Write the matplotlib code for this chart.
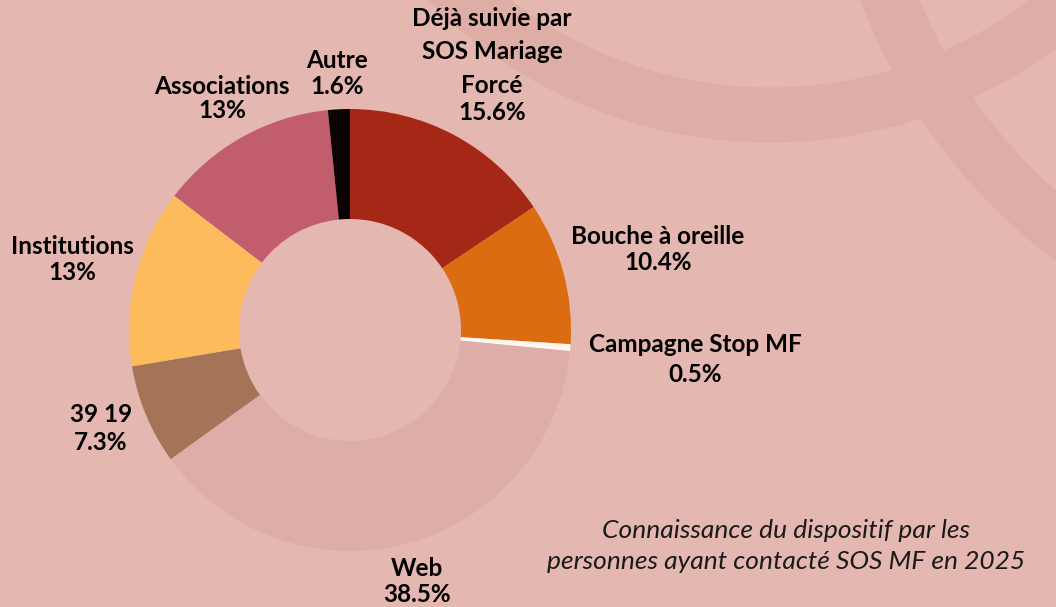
import matplotlib
matplotlib.use("Agg")
import matplotlib.pyplot as plt
from matplotlib.patches import Circle

# source share (%), clockwise from the top
labels = ["Déjà suivie par\nSOS Mariage\nForcé", "Bouche à oreille", "Campagne Stop MF",
          "Web", "39 19", "Institutions", "Associations", "Autre"]
values = [15.6, 10.4, 0.5, 38.5, 7.3, 13, 13, 1.6]
pct_text = ["15.6%", "10.4%", "0.5%", "38.5%", "7.3%", "13%", "13%", "1.6%"]
colors = ["#A52816", "#DB6C12", "#FFF6F0", "#DDAEA7", "#A57357", "#FEBB5C", "#C25D6E", "#0A0302"]

subtitle = "Connaissance du dispositif par les\npersonnes ayant contacté SOS MF en 2025"

W, H = 1056, 607
bg = "#E4B7B1"

fig = plt.figure(figsize=(W / 100, H / 100), dpi=100, facecolor=bg)
ax = fig.add_axes([0, 0, 1, 1])
ax.set_facecolor(bg)

# decorative arcs in the background (image pixel coords, y flipped)
band = 55 * 72 / 100
for cx, cy, r in [(770, H + 340, 455), (1400, H + 200, 548)]:
    ax.add_patch(Circle((cx, cy), r, fill=False, edgecolor="#DEADA6", linewidth=band, zorder=0))

cx, cy = 350, H - 330
ax.pie(values, colors=colors, startangle=90, counterclock=False, radius=221,
       center=(cx, cy), wedgeprops=dict(width=110, edgecolor="none"))

ax.set_xlim(0, W)
ax.set_ylim(0, H)
ax.set_aspect("auto")
ax.axis("off")

font = "Lato"
fs = 17.5
# label anchors: (x, y of first line, y of pct) in image pixels
pos = [(492, 20, 113), (658, 237, 263), (695, 345, 374), (417, 568, 594),
       (101, 415, 442), (72, 247, 272), (222, 87, 111), (337, 61, 87)]
for name, pct, (x, y1, y2) in zip(labels, pct_text, pos):
    if "\n" in name:
        ax.text(x, H - y1 + 13, name, ha="center", va="top", fontsize=fs,
                fontweight="bold", family=font, linespacing=1.55)
    else:
        ax.text(x, H - y1, name, ha="center", va="center", fontsize=fs,
                fontweight="bold", family=font)
    ax.text(x, H - y2, pct, ha="center", va="center", fontsize=fs,
            fontweight="bold", family=font)

ax.text(786, H - 546, subtitle, ha="center", va="center", fontsize=19,
        style="italic", family=font, linespacing=1.45, color="#1a1a1a")

fig.savefig("out.png", dpi=100, facecolor=bg)
